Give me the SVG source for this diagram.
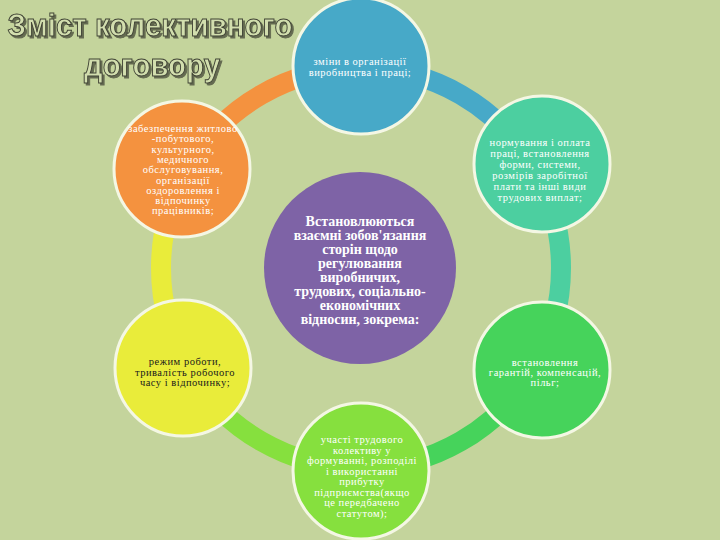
<svg xmlns="http://www.w3.org/2000/svg" width="720" height="540" viewBox="0 0 720 540">
<style>
.ring{fill:none;stroke-width:20}
.node circle{stroke:#f4f7e4;stroke-width:3}
.t{font-family:"Liberation Serif","DejaVu Serif",serif;font-size:10.5px;letter-spacing:0.5px;text-anchor:middle;fill:#ffffff}
.dark{fill:#1a1a1a}
.c{font-family:"Liberation Serif","DejaVu Serif",serif;font-size:14px;font-weight:bold;text-anchor:middle;fill:#ffffff}
.title{font-family:"Liberation Sans","DejaVu Sans",sans-serif;font-size:32px;font-weight:bold;text-anchor:middle;fill:#d2deae;stroke:#3f4234;stroke-width:1}
</style>
<defs>
<filter id="sh" x="-10%" y="-30%" width="120%" height="160%">
<feDropShadow dx="2" dy="2" stdDeviation="0.6" flood-color="#5a5e4a" flood-opacity="0.9"/>
</filter>
</defs>
<rect width="720" height="540" fill="#c4d49c"/>
<g id="title" filter="url(#sh)">
<text class="title" x="150" y="36" textLength="285" lengthAdjust="spacingAndGlyphs">Зміст колективного</text>
<text class="title" x="152" y="76" textLength="136" lengthAdjust="spacingAndGlyphs">договору</text>
</g>
<g id="connectors">
<path class="ring" stroke="#f4923f" d="M187.8 168 A200 200 0 0 1 361 68"/>
<path class="ring" stroke="#47a9c8" d="M361 68 A200 200 0 0 1 534.2 168"/>
<path class="ring" stroke="#4ccfa0" d="M534.2 168 A200 200 0 0 1 534.2 368"/>
<path class="ring" stroke="#46d35b" d="M534.2 368 A200 200 0 0 1 361 468"/>
<path class="ring" stroke="#86e03e" d="M361 468 A200 200 0 0 1 187.8 368"/>
<path class="ring" stroke="#e9ec3a" d="M187.8 368 A200 200 0 0 1 187.8 168"/>
</g>
<g id="n-top" class="node">
<circle cx="361" cy="66" r="68" fill="#47a9c8"/>
<text class="t"><tspan x="360" y="65">зміни в організації</tspan><tspan x="360" y="76">виробництва і праці;</tspan></text>
</g>
<g id="n-upright" class="node">
<circle cx="542" cy="164" r="68" fill="#4ccfa0"/>
<text class="t"><tspan x="540" y="146">нормування і оплата</tspan><tspan x="540" y="157">праці, встановлення</tspan><tspan x="540" y="168">форми, системи,</tspan><tspan x="540" y="179">розмірів заробітної</tspan><tspan x="540" y="190">плати та інші види</tspan><tspan x="540" y="201">трудових виплат;</tspan></text>
</g>
<g id="n-lowright" class="node">
<circle cx="542" cy="370" r="68" fill="#46d35b"/>
<text class="t"><tspan x="545" y="366">встановлення</tspan><tspan x="545" y="376">гарантій, компенсацій,</tspan><tspan x="545" y="386">пільг;</tspan></text>
</g>
<g id="n-bottom" class="node">
<circle cx="361" cy="471" r="68" fill="#86e03e"/>
<text class="t"><tspan x="362" y="443">участі трудового</tspan><tspan x="362" y="453.5">колективу у</tspan><tspan x="362" y="464">формуванні, розподілі</tspan><tspan x="362" y="474.5">і використанні</tspan><tspan x="362" y="485">прибутку</tspan><tspan x="362" y="495.5">підприємства(якщо</tspan><tspan x="362" y="506">це передбачено</tspan><tspan x="362" y="516.5">статутом);</tspan></text>
</g>
<g id="n-lowleft" class="node">
<circle cx="183" cy="368" r="68" fill="#e9ec3a"/>
<text class="t dark"><tspan x="185" y="365">режим роботи,</tspan><tspan x="185" y="375.5">тривалість робочого</tspan><tspan x="185" y="386">часу і відпочинку;</tspan></text>
</g>
<g id="n-upleft" class="node">
<circle cx="182" cy="169" r="68" fill="#f4923f"/>
<text class="t"><tspan x="183" y="132">забезпечення житлово</tspan><tspan x="183" y="142.3">-побутового,</tspan><tspan x="183" y="152.6">культурного,</tspan><tspan x="183" y="162.9">медичного</tspan><tspan x="183" y="173.2">обслуговування,</tspan><tspan x="183" y="183.5">організації</tspan><tspan x="183" y="193.8">оздоровлення і</tspan><tspan x="183" y="204.1">відпочинку</tspan><tspan x="183" y="214.4">працівників;</tspan></text>
</g>
<g id="n-center">
<circle cx="360" cy="268" r="96" fill="#7e63a6"/>
<text class="c"><tspan x="360" y="226">Встановлюються</tspan><tspan x="360" y="240">взаємні зобов'язання</tspan><tspan x="360" y="254">сторін щодо</tspan><tspan x="360" y="268">регулювання</tspan><tspan x="360" y="282">виробничих,</tspan><tspan x="360" y="296">трудових, соціально-</tspan><tspan x="360" y="310">економічних</tspan><tspan x="360" y="324">відносин, зокрема:</tspan></text>
</g>
</svg>
